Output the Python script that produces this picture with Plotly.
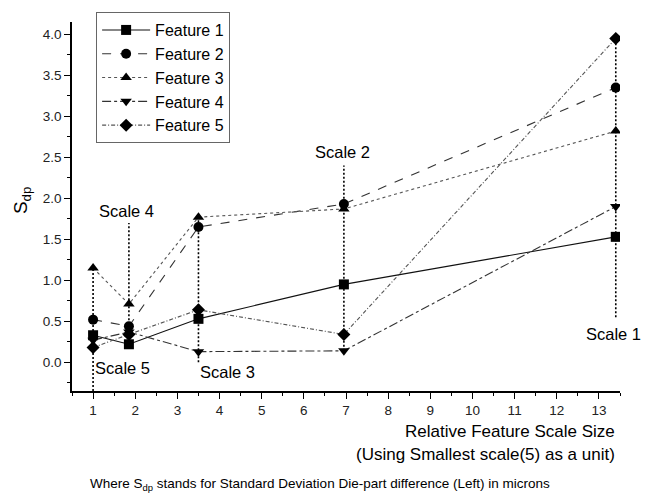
import plotly.graph_objects as go

# ---- data ----
scale_x = [1.0, 1.85, 3.5, 6.95, 13.4]
scale_names = ["Scale 5", "Scale 4", "Scale 3", "Scale 2", "Scale 1"]
feature_names = ["Feature 1", "Feature 2", "Feature 3", "Feature 4", "Feature 5"]
feature_1 = [0.33, 0.22, 0.53, 0.95, 1.53]
feature_2 = [0.52, 0.44, 1.65, 1.93, 3.35]
feature_3 = [1.15, 0.71, 1.77, 1.87, 2.82]
feature_4 = [0.27, 0.37, 0.13, 0.14, 1.90]
feature_5 = [0.18, 0.34, 0.64, 0.34, 3.95]
series = [feature_1, feature_2, feature_3, feature_4, feature_5]

# ---- styles ----
symbols = ["square", "circle", "triangle-up", "triangle-down", "diamond"]
dashes = ["solid", "dash", "dot", "dashdot", "4px,2px,1px,2px"]
line_colors = ["#111111", "#333333", "#555555", "#333333", "#555555"]
# where each scale's dotted guide line ends (towards its label)
guide_end = [-0.35, 1.70, 0.0, 2.4, 0.55]
label_y = [-0.07, 1.85, -0.12, 2.57, 0.35]
label_dx = [0.0, -0.76, 0.0, -0.74, -0.76]

FONT = "Arial, Liberation Sans, sans-serif"

fig = go.Figure()

# vertical dotted guide lines at each scale
for i, x in enumerate(scale_x):
    vals = [s[i] for s in series]
    lo = min(min(vals), guide_end[i])
    hi = max(max(vals), guide_end[i])
    fig.add_trace(go.Scatter(
        x=[x, x], y=[lo, hi], mode="lines",
        line=dict(color="#000000", width=1.6, dash="2px,2px"),
        showlegend=False, hoverinfo="skip"))

for name, vals, sym, dsh, col in zip(feature_names, series, symbols, dashes, line_colors):
    fig.add_trace(go.Scatter(
        x=scale_x, y=vals, name=name, mode="lines+markers",
        line=dict(color=col, width=1.1, dash=dsh),
        marker=dict(symbol=sym, size=10, color="#000000", line=dict(width=0))))

for i, x in enumerate(scale_x):
    fig.add_annotation(x=x + label_dx[i], y=label_y[i], text=scale_names[i],
                       xref="x", yref="y", showarrow=False, xanchor="left",
                       yanchor="middle", font=dict(size=16.5, color="#000000", family=FONT))

fig.add_annotation(x=0.9945, y=-0.1105, xref="paper", yref="paper", showarrow=False,
                   text="Relative Feature Scale Size",
                   xanchor="right", yanchor="middle", align="right",
                   font=dict(size=17, color="#000000", family=FONT))
fig.add_annotation(x=0.9945, y=-0.1725, xref="paper", yref="paper", showarrow=False,
                   text="(Using Smallest scale(5) as a unit)",
                   xanchor="right", yanchor="middle", align="right",
                   font=dict(size=17, color="#000000", family=FONT))
fig.add_annotation(x=0.03, y=-0.253, xref="paper", yref="paper", showarrow=False,
                   text="Where S<sub>dp</sub> stands for Standard Deviation Die-part difference (Left) in microns",
                   xanchor="left", yanchor="middle",
                   font=dict(size=13.5, color="#000000", family=FONT))
fig.add_annotation(x=-0.091, y=0.515, xref="paper", yref="paper", showarrow=False,
                   text="S<sub>dp</sub>", textangle=-90, xanchor="center", yanchor="middle",
                   font=dict(size=19, color="#000000", family=FONT))

axis_common = dict(showline=True, linecolor="#000000", linewidth=1.5, ticks="outside",
                   ticklen=6, tickwidth=1.3, tickcolor="#000000", showgrid=False,
                   zeroline=False, mirror=False,
                   tickfont=dict(size=13.5, color="#222222", family=FONT))

fig.update_layout(
    width=649, height=504,
    margin=dict(l=72, r=29, t=20, b=113),
    paper_bgcolor="white", plot_bgcolor="white",
    font=dict(family=FONT, color="#000000"),
    xaxis=dict(range=[0.5, 13.5], dtick=1, tick0=0,
               minor=dict(dtick=0.5, ticklen=3, tickcolor="#000000", ticks="outside", showgrid=False),
               **axis_common),
    yaxis=dict(range=[-0.35, 4.15], dtick=0.5, tick0=0, tickformat=".1f",
               minor=dict(dtick=0.25, ticklen=3, tickcolor="#000000", ticks="outside", showgrid=False),
               **axis_common),
    legend=dict(x=0.044, y=1.027, xanchor="left", yanchor="top",
                bgcolor="white", bordercolor="#666666", borderwidth=1,
                font=dict(size=16, color="#000000", family=FONT),
                itemwidth=48, tracegroupgap=0),
    showlegend=True,
)

fig.write_html("out.html")
